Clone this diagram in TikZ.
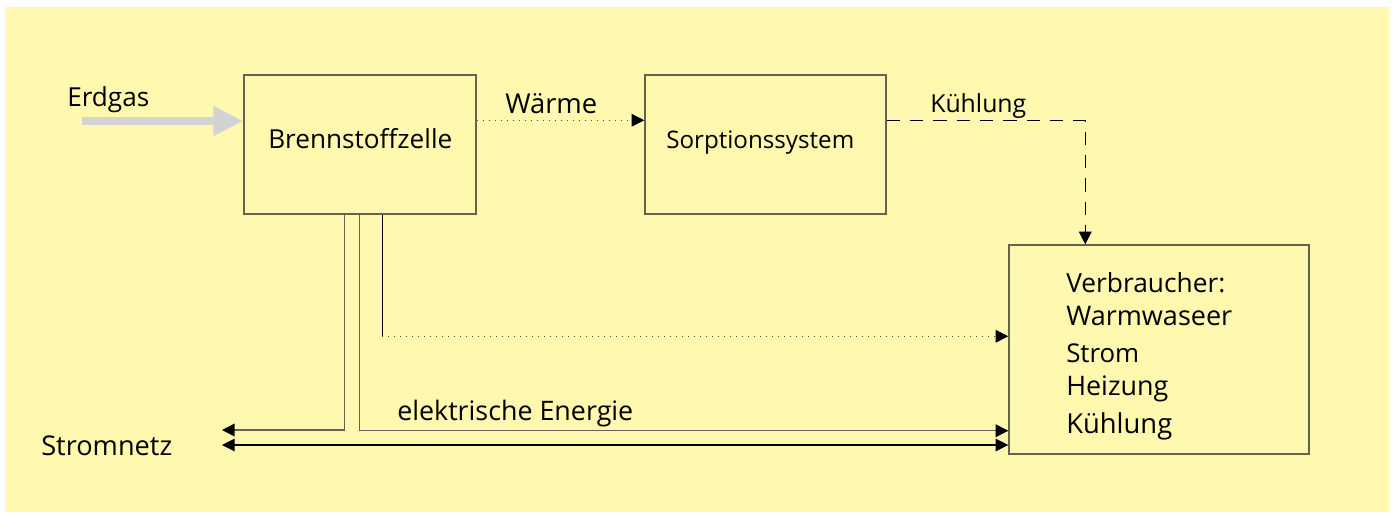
\documentclass[tikz,border=0pt]{standalone}
\usepackage{fontspec}
\usepackage{graphicx}
\setmainfont{Open Sans}
\usetikzlibrary{arrows.meta,calc}
\definecolor{bgyellow}{HTML}{FFF8AE}
\definecolor{boxline}{HTML}{66624C}
\definecolor{gasgray}{HTML}{D3D3D3}
\newcommand\fitlbl[2]{\resizebox{#1pt}{!}{#2}}
\begin{document}
\begin{tikzpicture}[x=0.75pt,y=-0.75pt,
  box/.style={draw=boxline,line width=1.1pt,inner sep=0pt},
  lbl/.style={inner sep=0pt,anchor=base west},
  tipa/.style={-{Triangle[length=9.5pt,width=9.5pt,color=black]}},
  tipb/.style={{Triangle[length=9.5pt,width=9.5pt,color=black]}-{Triangle[length=9.5pt,width=9.5pt,color=black]}},
  wire/.style={draw=boxline,line width=1.1pt},
  blackwire/.style={draw=black,line width=0.8pt},
  dotwire/.style={draw=black!70,line width=0.8pt,dash pattern=on 0.9pt off 3.6pt},
  dashwire/.style={draw=black,line width=0.8pt,dash pattern=on 10pt off 7.5pt}]
\useasboundingbox (0,0) rectangle (1394,512);
\fill[bgyellow] (5,7) rectangle (1389,512);
% boxes
\node[box,minimum width=174pt,minimum height=104.25pt] (bz) at (360,144.5) {};
\node[box,minimum width=180.75pt,minimum height=104.25pt] (sp) at (765.5,144.5) {};
\node[box,minimum width=225pt,minimum height=156.75pt] (vb) at (1159,349.5) {};
% texts
\node[lbl] (tbz) at (268,148) {\fitlbl{138}{Brennstoffzelle}};
\node[lbl] (tsp) at (666,148) {\fitlbl{141}{Sorptionssystem}};
\node[lbl] (terd) at (67,106) {\fitlbl{61.5}{Erdgas}};
\node[lbl] (tw) at (505,113) {\fitlbl{69}{Wärme}};
\node[lbl] (tk) at (930,112) {\fitlbl{72}{Kühlung}};
\node[lbl] (tel) at (397,420) {\fitlbl{177}{elektrische Energie}};
\node[lbl] (tsn) at (41,455) {\fitlbl{98.25}{Stromnetz}};
\node[lbl] (v1) at (1066,292) {\fitlbl{119.25}{Verbraucher:}};
\node[lbl] (v2) at (1066,325) {\fitlbl{124.5}{Warmwaseer}};
\node[lbl] (v3) at (1066,362) {\fitlbl{54.75}{Strom}};
\node[lbl] (v4) at (1066,395) {\fitlbl{76.5}{Heizung}};
\node[lbl] (v5) at (1066,433) {\fitlbl{79.5}{Kühlung}};
% coordinates
\coordinate (gas) at (82,121);
\coordinate (sn1) at (222,430);
\coordinate (sn2) at (222,445);
\coordinate (bzA) at ($(bz.south west)+(101,0)$);
\coordinate (bzB) at ($(bz.south west)+(116,0)$);
\coordinate (bzC) at ($(bz.south west)+(139,0)$);
\coordinate (vbA) at ($(vb.north west)+(0,92)$);
\coordinate (vbB) at ($(vb.south west)+(0,-24)$);
\coordinate (vbK) at ($(vb.north west)+(77,0)$);
% connectors
\draw[gasgray,line width=6pt,-{Triangle[length=22.5pt,width=21pt]}] (gas) -- (gas -| bz.west);
\draw[dotwire,tipa] ($(bz.north east)+(0,46)$) -- ($(sp.north west)+(0,46)$);
\draw[dashwire,tipa] ($(sp.north east)+(0,46)$) -| (vbK);
\draw[blackwire] (bzC) -- (bzC |- vbA);
\draw[dotwire,tipa] (bzC |- vbA) -- (vbA);
\draw[wire,tipa] (bzA) |- (sn1);
\draw[wire,tipa] (bzB) |- (vbB);
\draw[blackwire,tipb] (sn2) -- (sn2 -| vb.west);
\end{tikzpicture}
\end{document}
